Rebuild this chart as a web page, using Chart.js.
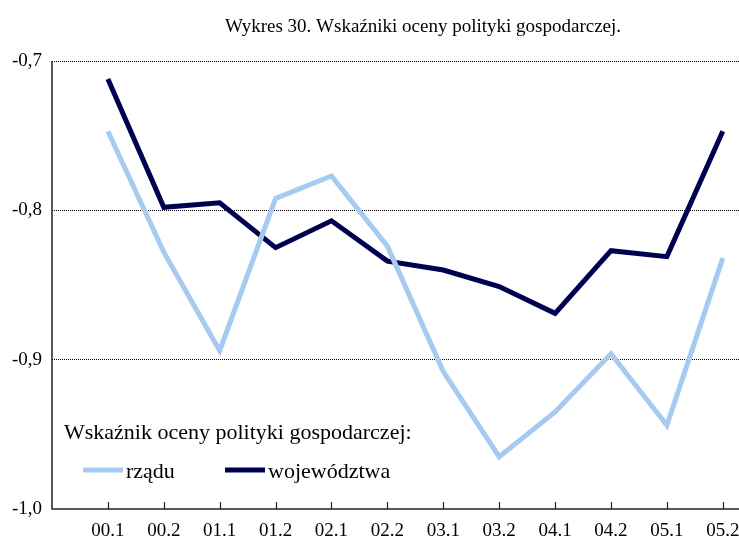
<!DOCTYPE html>
<html>
<head>
<meta charset="utf-8">
<script src="https://cdn.jsdelivr.net/npm/chart.js@4"></script>
<style>
    html, body { margin: 0; padding: 0; background: #fff; }
</style>
</head>
<body>
<canvas id="chart" width="739" height="536"></canvas>
<script>
const categories = ['00.1', '00.2', '01.1', '01.2', '02.1', '02.2', '03.1', '03.2', '04.1', '04.2', '05.1', '05.2'];
const rzaduValues = [-0.747, -0.828, -0.894, -0.792, -0.777, -0.824, -0.908, -0.965, -0.935, -0.896, -0.944, -0.832];
const wojewodztwaValues = [-0.712, -0.798, -0.795, -0.825, -0.807, -0.834, -0.840, -0.851, -0.869, -0.827, -0.831, -0.747];
const yTicks = [-0.7, -0.8, -0.9, -1.0];

const FONT = "'Liberation Serif', 'Times New Roman', serif";
const LIGHT = '#A6CAF0';
const DARK = '#000050';

Chart.defaults.font.family = FONT;

// title, axis lines, inner tick marks and the legend box
const decorations = {
    id: 'decorations',
    afterDraw(chart) {
        const {ctx, chartArea, scales} = chart;
        ctx.save();
        ctx.fillStyle = '#000';
        ctx.textBaseline = 'alphabetic';

        ctx.font = '19px ' + FONT;
        ctx.textAlign = 'center';
        ctx.fillText('Wykres 30. Wskaźniki oceny polityki gospodarczej.', 423, 32);

        ctx.strokeStyle = '#222';
        ctx.lineWidth = 1.5;
        ctx.beginPath();
        ctx.moveTo(chartArea.left, chartArea.top);
        ctx.lineTo(chartArea.left, chartArea.bottom);
        ctx.lineTo(chartArea.right, chartArea.bottom);
        ctx.stroke();

        ctx.lineWidth = 1.2;
        ctx.beginPath();
        categories.forEach((c, i) => {
            const x = Math.round(scales.x.getPixelForValue(i)) + 0.5;
            ctx.moveTo(x, chartArea.bottom);
            ctx.lineTo(x, chartArea.bottom - 7);
        });
        ctx.stroke();

        ctx.font = '22px ' + FONT;
        ctx.textAlign = 'left';
        ctx.fillText('Wskaźnik oceny polityki gospodarczej:', 64, 439);

        const items = [['rządu', LIGHT, 83], ['województwa', DARK, 225]];
        items.forEach(([label, color, x]) => {
            ctx.strokeStyle = color;
            ctx.lineWidth = 5;
            ctx.beginPath();
            ctx.moveTo(x, 470);
            ctx.lineTo(x + 40, 470);
            ctx.stroke();
            ctx.fillText(label, x + 43, 478);
        });
        ctx.restore();
    }
};

const ctx = document.getElementById('chart').getContext('2d');
new Chart(ctx, {
    type: 'line',
    data: {
        datasets: [{
            label: 'rządu',
            data: rzaduValues.map((v, i) => ({x: i, y: v})),
            borderColor: LIGHT,
            borderWidth: 5,
            pointRadius: 0,
            tension: 0,
            borderJoinStyle: 'miter',
        }, {
            label: 'województwa',
            data: wojewodztwaValues.map((v, i) => ({x: i, y: v})),
            borderColor: DARK,
            borderWidth: 5,
            pointRadius: 0,
            tension: 0,
            borderJoinStyle: 'miter',
        }],
    },
    options: {
        responsive: false,
        animation: false,
        devicePixelRatio: 1,
        layout: {
            padding: {top: 61, right: 0, left: 0, bottom: 0},
        },
        plugins: {
            legend: {display: false},
            tooltip: {enabled: false},
        },
        scales: {
            x: {
                type: 'linear',
                min: -1,
                max: 11.29,
                afterBuildTicks: scale => {
                    scale.ticks = categories.map((c, i) => ({value: i}));
                },
                afterFit: scale => {
                    scale.height = 27;
                    scale.paddingLeft = 0;
                    scale.paddingRight = 0;
                },
                grid: {display: false, drawTicks: false},
                border: {display: false},
                ticks: {
                    autoSkip: false,
                    maxRotation: 0,
                    padding: 11,
                    color: '#000',
                    font: {family: FONT, size: 19},
                    callback: value => categories[value] ?? '',
                },
            },
            y: {
                min: -1.0,
                max: -0.7,
                afterBuildTicks: scale => {
                    scale.ticks = yTicks.map(v => ({value: v}));
                },
                afterFit: scale => { scale.width = 52; },
                grid: {
                    drawTicks: false,
                    color: c => (c.tick && c.tick.value <= -0.999) ? 'rgba(0,0,0,0)' : '#000',
                    lineWidth: 1,
                },
                border: {display: false, dash: [1, 1]},
                ticks: {
                    padding: 10,
                    color: '#000',
                    font: {family: FONT, size: 19},
                    callback: value => value.toFixed(1).replace('.', ','),
                },
            },
        },
    },
    plugins: [decorations],
});
</script>
</body>
</html>
